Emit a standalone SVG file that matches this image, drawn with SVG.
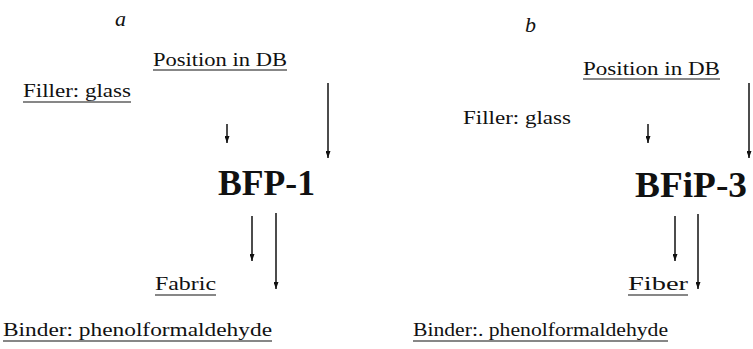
<svg xmlns="http://www.w3.org/2000/svg" width="753" height="349" viewBox="0 0 753 349">
<defs>
<marker id="ah" viewBox="0 0 7 5" refX="7" refY="2.5" markerWidth="7" markerHeight="5" markerUnits="userSpaceOnUse" orient="auto">
<path d="M0,0 L7,2.5 L0,5 Z" fill="#111"/>
</marker>
</defs>
<style>
text{font-family:"Liberation Serif","DejaVu Serif",serif;fill:#111}
.lbl{font-size:19px}
.title{font-size:35px;font-weight:bold}
.pan{font-size:22px;font-style:italic}
.ul{stroke:#111;stroke-width:1.2}
.arr{stroke:#111;stroke-width:1.5;fill:none}
</style>
<rect width="753" height="349" fill="#fff"/>
<g id="panel-a">
<text class="pan" x="115" y="26">a</text>
<g id="a-position"><text class="lbl" x="153" y="66" textLength="134" lengthAdjust="spacingAndGlyphs">Position in DB</text><line class="ul" x1="153" y1="70" x2="287" y2="70"/></g>
<g id="a-filler"><text class="lbl" x="23" y="97" textLength="108" lengthAdjust="spacingAndGlyphs">Filler: glass</text><line class="ul" x1="23" y1="102" x2="131" y2="102"/></g>
<g id="a-bfp"><text class="title" x="218" y="195" textLength="97" lengthAdjust="spacingAndGlyphs">BFP-1</text></g>
<g id="a-fabric"><text class="lbl" x="155" y="290" textLength="61" lengthAdjust="spacingAndGlyphs">Fabric</text><line class="ul" x1="155" y1="295" x2="216" y2="295"/></g>
<g id="a-binder"><text class="lbl" x="3" y="336" textLength="269" lengthAdjust="spacingAndGlyphs">Binder: phenolformaldehyde</text><line class="ul" x1="3" y1="341" x2="272" y2="341"/></g>
</g>
<g id="panel-b">
<text class="pan" x="525" y="32">b</text>
<g id="b-position"><text class="lbl" x="583" y="75" textLength="137" lengthAdjust="spacingAndGlyphs">Position in DB</text><line class="ul" x1="583" y1="79" x2="720" y2="79"/></g>
<g id="b-filler"><text class="lbl" x="463" y="124" textLength="108" lengthAdjust="spacingAndGlyphs">Filler: glass</text></g>
<g id="b-bfip"><text class="title" x="635" y="197" textLength="112" lengthAdjust="spacingAndGlyphs">BFiP-3</text></g>
<g id="b-fiber"><text class="lbl" x="628" y="290" textLength="60" lengthAdjust="spacingAndGlyphs">Fiber</text><line class="ul" x1="628" y1="295" x2="688" y2="295"/></g>
<g id="b-binder"><text class="lbl" x="413" y="336" textLength="255" lengthAdjust="spacingAndGlyphs">Binder:. phenolformaldehyde</text><line class="ul" x1="413" y1="341" x2="668" y2="341"/></g>
</g>
<g id="connectors">
<line class="arr" x1="227" y1="124" x2="227" y2="143" marker-end="url(#ah)"/>
<line class="arr" x1="328" y1="83" x2="328" y2="158" marker-end="url(#ah)"/>
<line class="arr" x1="252" y1="216" x2="252" y2="261" marker-end="url(#ah)"/>
<line class="arr" x1="276" y1="213" x2="276" y2="289" marker-end="url(#ah)"/>
<line class="arr" x1="648" y1="124" x2="648" y2="143" marker-end="url(#ah)"/>
<line class="arr" x1="749" y1="83" x2="749" y2="158" marker-end="url(#ah)"/>
<line class="arr" x1="675" y1="216" x2="675" y2="261" marker-end="url(#ah)"/>
<line class="arr" x1="698" y1="214" x2="698" y2="289" marker-end="url(#ah)"/>
</g>
</svg>
